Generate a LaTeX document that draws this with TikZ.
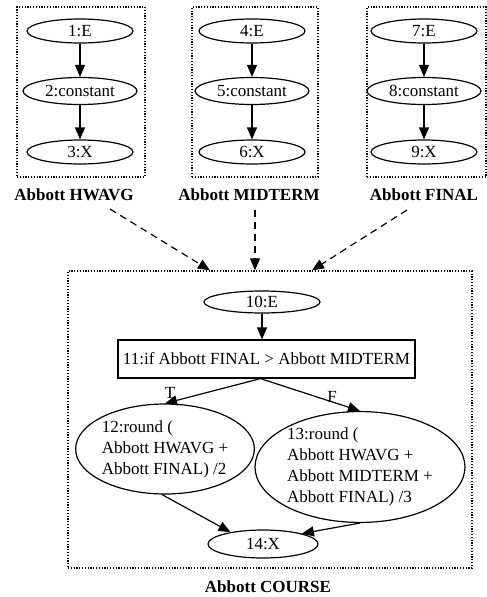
\documentclass[tikz,border=0pt]{standalone}
\usepackage{fontspec}
\setmainfont{Liberation Serif}
\usetikzlibrary{arrows.meta,shapes.geometric,positioning}
\tikzset{
  texto/.style={font=\fontsize{17}{21}\selectfont},
  nodo/.style={ellipse,draw,line width=1.2pt,inner sep=0pt,minimum width=106,minimum height=24,texto},
  nodoc/.style={nodo,minimum width=114,minimum height=27},
  caja/.style={rectangle,draw,line width=1.2pt,inner sep=0pt,texto},
  grupo/.style={rectangle,draw,line width=1.3pt,dash pattern=on 1.2pt off 1.6pt,inner sep=0pt},
  titulo/.style={font=\fontsize{17}{21}\selectfont\bfseries},
  arista/.style={draw,line width=1.2pt,-{Triangle[length=12pt,width=10pt]}},
  depende/.style={arista,dash pattern=on 7pt off 5pt},
  rama/.style={texto,inner sep=0pt},
}
\begin{document}
\begin{tikzpicture}[x=1pt,y=-1pt]
\useasboundingbox (0,0) rectangle (487,597);
% the three input groups
\node[grupo,minimum width=128,minimum height=170] (g1) at (81,92) {};
\node[grupo,minimum width=126,minimum height=170] (g2) at (255,92) {};
\node[grupo,minimum width=119,minimum height=170] (g3) at (426.5,92) {};
\node[nodo] (n1) at (80,31) {1:E};
\node[nodoc] (n2) at (80,91) {2:constant};
\node[nodo] (n3) at (80,152) {3:X};
\node[nodo] (n4) at (252,31) {4:E};
\node[nodoc] (n5) at (252,91) {5:constant};
\node[nodo] (n6) at (252,152) {6:X};
\node[nodo] (n7) at (424,31) {7:E};
\node[nodoc] (n8) at (424,91) {8:constant};
\node[nodo] (n9) at (424,152) {9:X};
\node[titulo] (t1) at (74,195) {Abbott HWAVG};
\node[titulo] (t2) at (249,195) {Abbott MIDTERM};
\node[titulo] (t3) at (424,195) {Abbott FINAL};
\draw[arista] (n1) -- (n2);
\draw[arista] (n2) -- (n3);
\draw[arista] (n4) -- (n5);
\draw[arista] (n5) -- (n6);
\draw[arista] (n7) -- (n8);
\draw[arista] (n8) -- (n9);
% the course group
\node[grupo,minimum width=404,minimum height=297] (g4) at (270,419.5) {};
\node[titulo] (t4) at (268,587) {Abbott COURSE};
\node[nodo,minimum width=116,minimum height=22] (n10) at (262,302) {10:E};
\node[caja,minimum width=297,minimum height=38] (n11) at (266.5,359) {11:if Abbott FINAL > Abbott MIDTERM};
\node[nodo,minimum width=170,minimum height=90,align=left] (n12) at (165,449) {12:round (\\Abbott HWAVG +\\Abbott FINAL) /2};
\node[nodo,minimum width=210,minimum height=100,align=left] (n13) at (360,467) {13:round (\\Abbott HWAVG +\\Abbott MIDTERM +\\Abbott FINAL) /3};
\node[nodo,minimum width=110,minimum height=28] (n14) at (263,544) {14:X};
\draw[arista] (n10) -- (n10.south |- n11.north);
\draw[arista] ([xshift=-6pt]n11.south) -- (n12.north);
\node[rama] (lt) at (170,393) {T};
\draw[arista] ([xshift=-6pt]n11.south) -- (n13.north);
\node[rama] (lf) at (332,397) {F};
\draw[arista] ([xshift=-3pt]n12.south) -- (n14.160);
\draw[arista] (n13.south) -- (n14.15);
% links between the groups
\draw[depende] ([shift={(36,14)}]t1.center) -- ([xshift=-60pt]g4.north);
\draw[depende] ([shift={(6,15)}]t2.center) -- ([xshift=-15pt]g4.north);
\draw[depende] ([shift={(-17,15)}]t3.center) -- ([xshift=42pt]g4.north);
\end{tikzpicture}
\end{document}
